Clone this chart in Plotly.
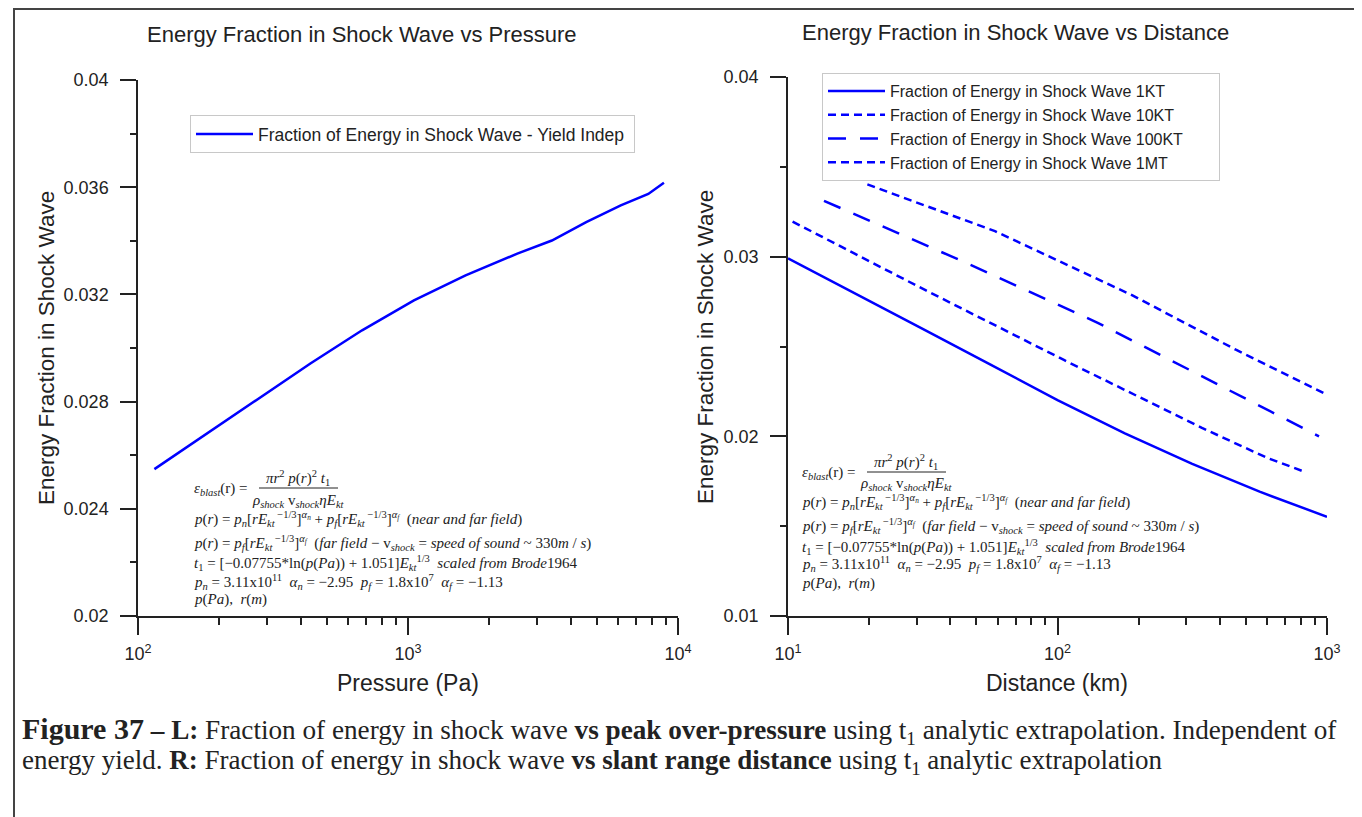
import plotly.graph_objects as go

W, H = 1362, 817
OFF = 8  # the page body adds an 8px margin around the figure

# Left panel: energy fraction vs peak over-pressure (yield independent)
pressure_pa = [115, 180, 280, 435, 676, 1052, 1634, 2540, 3411, 4571, 6138, 7762, 8870]
frac_vs_pressure = [0.02548, 0.02681, 0.02811, 0.02942, 0.03066, 0.03178, 0.03271,
                    0.03352, 0.03401, 0.03470, 0.03532, 0.03575, 0.03617]

# Right panel: energy fraction vs slant range for four yields
dist_1kt = [10, 17.8, 31.6, 56.2, 100, 177.8, 316.2, 562.3, 1000]
frac_1kt = [0.02990, 0.02795, 0.02598, 0.02400, 0.02202, 0.02017, 0.01847, 0.01692, 0.01552]
dist_10kt = [10.4, 32.5, 105.6, 343.5, 600, 828]
frac_10kt = [0.03195, 0.02812, 0.02425, 0.02047, 0.01880, 0.01802]
dist_100kt = [13.6, 43.4, 141, 459, 934]
frac_100kt = [0.03311, 0.02981, 0.02632, 0.02236, 0.02000]
dist_1mt = [19.7, 32.5, 58.6, 190.5, 459, 1000]
frac_1mt = [0.03402, 0.03283, 0.03142, 0.02783, 0.02482, 0.02232]

yield_names = ['1KT', '10KT', '100KT', '1MT']
yield_dash = ['solid', '8px,5px', '18px,14px', '8px,5px']

left_yticks = [0.02, 0.024, 0.028, 0.032, 0.036, 0.04]
left_ylabels = ['0.02', '0.024', '0.028', '0.032', '0.036', '0.04']
right_yticks = [0.01, 0.02, 0.03, 0.04]
right_ylabels = ['0.01', '0.02', '0.03', '0.04']


def px(x):
    return (x - OFF) / W


def py(y):
    return 1 - (y - OFF) / H


SANS = 'Arial, Liberation Sans, sans-serif'
SERIF = 'Times New Roman, Liberation Serif, serif'
BLUE = '#0000ff'
INK = '#222222'
NB = '\u00a0'

fig = go.Figure()

fig.add_trace(go.Scatter(x=pressure_pa, y=frac_vs_pressure, mode='lines',
                         name='Fraction of Energy in Shock Wave - Yield Indep' + NB,
                         line=dict(color=BLUE, width=2.5), xaxis='x', yaxis='y',
                         legend='legend', showlegend=True))

for nm, d, xs, ys in zip(yield_names, yield_dash,
                         [dist_1kt, dist_10kt, dist_100kt, dist_1mt],
                         [frac_1kt, frac_10kt, frac_100kt, frac_1mt]):
    fig.add_trace(go.Scatter(x=xs, y=ys, mode='lines',
                             name='Fraction of Energy in Shock Wave ' + nm + NB * 7,
                             line=dict(color=BLUE, width=2.5, dash=d),
                             xaxis='x2', yaxis='y2', legend='legend2', showlegend=True))

axis_style = dict(showline=True, linecolor=INK, linewidth=1.5, ticks='outside', tickcolor=INK,
                  tickwidth=1.5, showgrid=False, zeroline=False, automargin=False,
                  tickfont=dict(family=SANS, size=18, color=INK))


def log_minor(lo, hi):
    return [m * 10 ** e for e in range(lo, hi) for m in range(2, 10)]


legend_style = dict(xanchor='left', yanchor='top', bgcolor='white', visible=True,
                    bordercolor='#c8c8c8', borderwidth=1, itemwidth=57)

fig.update_layout(
    width=W, height=H, showlegend=True,
    margin=dict(l=0, r=0, t=0, b=0, pad=0, autoexpand=False),
    paper_bgcolor='white', plot_bgcolor='white',
    xaxis=dict(axis_style, type='log', range=[2, 4], domain=[px(138), px(678)], anchor='y',
               tickvals=[100, 1000, 10000], ticktext=['10<sup>2</sup>', '10<sup>3</sup>', '10<sup>4</sup>'],
               ticklen=17, ticklabelstandoff=4,
               minor=dict(tickvals=log_minor(2, 4), ticks='outside', ticklen=7, tickwidth=1.5, tickcolor=INK)),
    yaxis=dict(axis_style, range=[0.02, 0.04], domain=[py(616), py(80)], anchor='x',
               tickvals=left_yticks, ticktext=left_ylabels, ticklen=16, ticklabelstandoff=8,
               minor=dict(tickvals=[0.022, 0.026, 0.030, 0.034, 0.038], ticks='outside', ticklen=6,
                          tickwidth=1.5, tickcolor=INK)),
    xaxis2=dict(axis_style, type='log', range=[1, 3], domain=[px(788), px(1327)], anchor='y2',
                tickvals=[10, 100, 1000], ticktext=['10<sup>1</sup>', '10<sup>2</sup>', '10<sup>3</sup>'],
                ticklen=17, ticklabelstandoff=4,
                minor=dict(tickvals=log_minor(1, 3), ticks='outside', ticklen=7, tickwidth=1.5, tickcolor=INK)),
    yaxis2=dict(axis_style, range=[0.01, 0.04], domain=[py(616), py(77)], anchor='x2',
                tickvals=right_yticks, ticktext=right_ylabels, ticklen=16, ticklabelstandoff=8,
                minor=dict(tickvals=[0.015, 0.025, 0.035], ticks='outside', ticklen=6,
                           tickwidth=1.5, tickcolor=INK)),
    legend=dict(legend_style, x=px(190), y=py(115), font=dict(family=SANS, size=17.5, color=INK)),
    legend2=dict(legend_style, x=px(822), y=py(73), font=dict(family=SANS, size=16, color=INK)),
)

annotations = []


def note(text, x, y, size=15, family=SERIF, xanchor='left', angle=0):
    annotations.append(dict(text=text, x=px(x), y=py(y), xref='paper', yref='paper',
                            xanchor=xanchor, yanchor='middle', showarrow=False, textangle=angle,
                            font=dict(family=family, size=size, color=INK)))


# titles
note('Energy Fraction in Shock Wave vs Pressure', 362, 35, 22, SANS, 'center')
note('Energy Fraction in Shock Wave vs Distance', 1015, 32, 22, SANS, 'center')
note('Pressure (Pa)', 408, 683, 23, SANS, 'center')
note('Distance (km)', 1057, 683, 23, SANS, 'center')
note('Energy Fraction in Shock Wave', 47, 348, 22.5, SANS, 'center', -90)
note('Energy Fraction in Shock Wave', 705, 347, 22.5, SANS, 'center', -90)

# formula block, drawn in both panels
eps = '<i>ε<sub>blast</sub></i>(r) ='
num = '<i>πr</i><sup>2</sup><i> p</i>(<i>r</i>)<sup>2</sup><i> t</i><sub>1</sub>'
den = '<i>ρ<sub>shock</sub></i> v<sub><i>shock</i></sub><i>ηE<sub>kt</sub></i>'
near = ('<i>p</i>(<i>r</i>) = <i>p<sub>n</sub></i>[<i>rE<sub>kt</sub></i><sup> −1/3</sup>]<sup><i>α<sub>n</sub></i></sup>'
        ' + <i>p<sub>f</sub></i>[<i>rE<sub>kt</sub></i><sup> −1/3</sup>]<sup><i>α<sub>f</sub></i></sup>'
        '  (<i>near and far field</i>)')
far = ('<i>p</i>(<i>r</i>) = <i>p<sub>f</sub></i>[<i>rE<sub>kt</sub></i><sup> −1/3</sup>]<sup><i>α<sub>f</sub></i></sup>'
       '  (<i>far field</i> − v<sub><i>shock</i></sub> = <i>speed of sound</i> ~ 330<i>m</i> / <i>s</i>)')
t1 = ('<i>t</i><sub>1</sub> = [−0.07755*ln(<i>p</i>(<i>Pa</i>)) + 1.051]<i>E<sub>kt</sub></i><sup>1/3</sup>'
      '  <i>scaled from Brode</i>1964')
pn = ('<i>p<sub>n</sub></i> = 3.11x10<sup>11</sup>  <i>α<sub>n</sub></i> = −2.95  '
      '<i>p<sub>f</sub></i> = 1.8x10<sup>7</sup>  <i>α<sub>f</sub></i> = −1.13')
ppa = '<i>p</i>(<i>Pa</i>),  <i>r</i>(<i>m</i>)'

shapes = []
for x0, ys in [(192, [478, 488, 489, 501, 519, 543, 563, 582, 599]),
               (800, [462, 472, 473, 484, 502, 526, 547, 564, 583])]:
    y_num, y_bar, y_eps, y_den, y_near, y_far, y_t1, y_pn, y_pa = ys
    note(eps, x0, y_eps)
    note(num, x0 + 106, y_num, xanchor='center')
    note(den, x0 + 106, y_den, xanchor='center')
    shapes.append(dict(type='line', xref='paper', yref='paper', x0=px(x0 + 67), x1=px(x0 + 146),
                       y0=py(y_bar), y1=py(y_bar), line=dict(color=INK, width=1)))
    note(near, x0, y_near)
    note(far, x0, y_far)
    note(t1, x0, y_t1)
    note(pn, x0, y_pn)
    note(ppa, x0, y_pa)

# caption
note('<b><span style="font-size:30px">Figure 37</span> – L:</b> Fraction of energy in shock wave '
     '<b>vs peak over-pressure</b> using t<sub>1</sub> analytic extrapolation. Independent of',
     20, 730, 27.2)
note('energy yield. <b>R:</b> Fraction of energy in shock wave <b>vs slant range distance</b> '
     'using t<sub>1</sub> analytic extrapolation', 20, 762, 27)

# page frame (top edge kept just inside the figure)
shapes.append(dict(type='rect', xref='paper', yref='paper', x0=px(14), x1=1.05, y0=-0.05, y1=py(OFF + 1),
                   line=dict(color='#444444', width=2)))

fig.update_layout(annotations=annotations, shapes=shapes)

fig.write_html('out.html')
